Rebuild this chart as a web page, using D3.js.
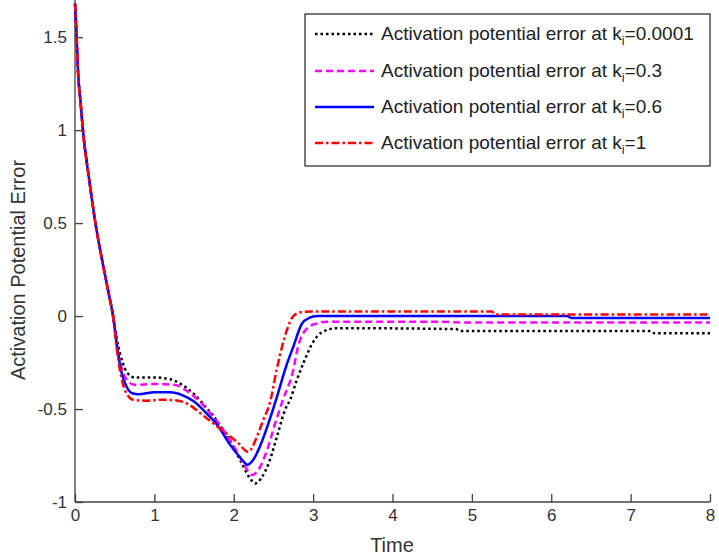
<!DOCTYPE html>
<html><head><meta charset="utf-8">
<script src="https://cdn.jsdelivr.net/npm/d3@7"></script>
<style>body{margin:0;background:#fff}svg{display:block}text{font-family:"Liberation Sans",Arial,sans-serif}</style>
</head><body>
<svg id="c" width="719" height="558"></svg>
<script>
// ---- data ----
const xTicks = [0,1,2,3,4,5,6,7,8];
const yTicks = [-1,-0.5,0,0.5,1,1.5];
const yTickLabels = ["-1","-0.5","0","0.5","1","1.5"];
const commonStart = [[0,1.68],[0.01,1.6],[0.02,1.5],[0.04,1.3],[0.07,1.15],[0.1,1.0],[0.18,0.73],[0.265,0.48],[0.36,0.26],[0.44,0.09],[0.48,0.0]];
const seriesK0001 = [[0.53,-0.13],[0.6,-0.25],[0.65,-0.3],[0.75,-0.33],[1.0,-0.33],[1.2,-0.34],[1.35,-0.37],[1.5,-0.42],[1.65,-0.49],[1.8,-0.57],[1.95,-0.67],[2.1,-0.79],[2.2,-0.87],[2.27,-0.9],[2.35,-0.87],[2.45,-0.78],[2.55,-0.64],[2.65,-0.5],[2.71,-0.45],[2.79,-0.35],[2.88,-0.25],[3.0,-0.14],[3.1,-0.09],[3.3,-0.065],[4.8,-0.07],[4.85,-0.08],[7.25,-0.08],[7.3,-0.093],[8,-0.093]];
const seriesK03 = [[0.53,-0.16],[0.6,-0.3],[0.67,-0.35],[0.75,-0.37],[1.0,-0.365],[1.25,-0.37],[1.4,-0.4],[1.55,-0.45],[1.7,-0.52],[1.85,-0.6],[2.0,-0.7],[2.12,-0.79],[2.23,-0.855],[2.32,-0.82],[2.42,-0.72],[2.52,-0.58],[2.62,-0.45],[2.75,-0.29],[2.81,-0.165],[2.94,-0.06],[3.05,-0.04],[3.17,-0.03],[4.5,-0.03],[5.0,-0.035],[8,-0.035]];
const seriesK06 = [[0.53,-0.165],[0.59,-0.31],[0.65,-0.38],[0.72,-0.415],[0.8,-0.42],[1.0,-0.41],[1.2,-0.41],[1.35,-0.425],[1.5,-0.46],[1.65,-0.52],[1.8,-0.59],[1.95,-0.69],[2.1,-0.77],[2.17,-0.8],[2.25,-0.77],[2.35,-0.68],[2.45,-0.56],[2.54,-0.44],[2.66,-0.27],[2.75,-0.165],[2.86,-0.04],[2.95,-0.01],[3.05,0.0],[6.2,0.0],[6.25,-0.01],[8,-0.01]];
const seriesK1 = [[0.53,-0.19],[0.6,-0.36],[0.67,-0.43],[0.73,-0.45],[0.9,-0.455],[1.1,-0.45],[1.3,-0.455],[1.45,-0.48],[1.6,-0.53],[1.75,-0.58],[1.9,-0.63],[2.05,-0.68],[2.18,-0.73],[2.3,-0.64],[2.37,-0.56],[2.46,-0.46],[2.54,-0.29],[2.67,-0.075],[2.75,0.0],[2.84,0.02],[3.0,0.025],[5.25,0.025],[5.3,0.008],[8,0.008]];
const seriesNames = ["0.0001","0.3","0.6","1"];
const seriesColors = ["#000000","#ff00ff","#0000ff","#ff0000"];
const seriesDash = ["2.5,3","7,4",null,"8,3,2.5,3"];

// ---- chart ----
const svg = d3.select("#c");
const x = d3.scaleLinear().domain([0,8]).range([75,710]);
const y = d3.scaleLinear().domain([-1,1.7]).range([502,0]);
const axisColor = "#404040";

const all = [seriesK0001, seriesK03, seriesK06, seriesK1].map(s => commonStart.concat(s));
const line = d3.line().x(d=>x(d[0])).y(d=>y(d[1])).curve(d3.curveMonotoneX);

// axes
const gx = svg.append("g").attr("transform","translate(0,502)")
  .call(d3.axisBottom(x).tickValues(xTicks).tickSize(-8).tickPadding(5).tickFormat(d3.format("d")));
const gy = svg.append("g").attr("transform","translate(75,0)")
  .call(d3.axisLeft(y).tickValues(yTicks).tickSize(-8).tickPadding(8).tickFormat((d,i)=>yTickLabels[i]));
[gx,gy].forEach(g=>{
  g.select(".domain").attr("stroke",axisColor).attr("stroke-width",1.3);
  g.selectAll(".tick line").attr("stroke",axisColor).attr("stroke-width",1.3);
  g.selectAll(".tick text").attr("fill","#333").style("font-size","17px").style("font-family","'Liberation Sans',Arial,sans-serif");
});
gy.select(".domain").attr("d","M0,502V0");
gx.select(".domain").attr("d","M75,0H710");
gx.selectAll(".tick text").attr("dy","0.85em");

// lines
all.forEach((s,i)=>{
  svg.append("path").datum(s).attr("d",line).attr("fill","none")
    .attr("stroke",seriesColors[i]).attr("stroke-width",2.5)
    .attr("stroke-dasharray",seriesDash[i]);
});

// labels
svg.append("text").attr("x",392).attr("y",552).attr("text-anchor","middle")
  .attr("fill","#333").style("font-size","20px").text("Time");
svg.append("text").attr("transform","translate(25,270) rotate(-90)").attr("text-anchor","middle")
  .attr("fill","#333").style("font-size","20px").text("Activation Potential Error");

// legend
const lg = svg.append("g");
lg.append("rect").attr("x",305).attr("y",14).attr("width",405).attr("height",152)
  .attr("fill","#fff").attr("stroke","#333").attr("stroke-width",1.3);
const rowY = [34,71,107,143];
seriesNames.forEach((n,i)=>{
  lg.append("line").attr("x1",315).attr("x2",374).attr("y1",rowY[i]).attr("y2",rowY[i])
    .attr("stroke",seriesColors[i]).attr("stroke-width",2.5).attr("stroke-dasharray",seriesDash[i]);
  const t = lg.append("text").attr("x",381).attr("y",rowY[i]+6).attr("fill","#222").style("font-size","19px");
  t.append("tspan").text("Activation potential error at k");
  t.append("tspan").attr("dy",5).style("font-size","12.5px").text("i");
  t.append("tspan").attr("dy",-5).text("="+n);
});
</script>
</body></html>
